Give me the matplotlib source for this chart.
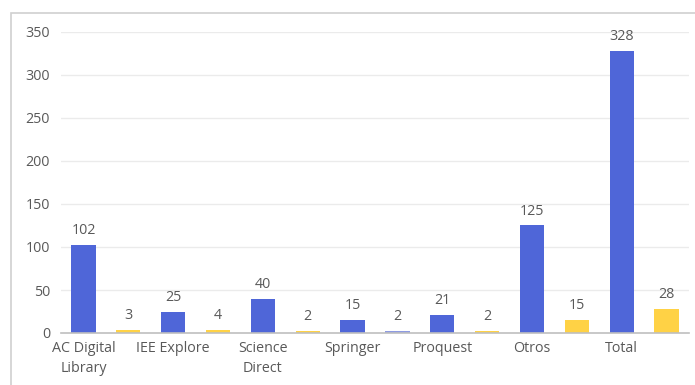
import matplotlib.pyplot as plt
import numpy as np
from matplotlib.patches import Rectangle

# Data
sources = ['AC Digital\nLibrary', 'IEE Explore', 'Science\nDirect', 'Springer',
           'Proquest', 'Otros', 'Total']
found = [102, 25, 40, 15, 21, 125, 328]
selected = [3, 4, 2, 2, 2, 15, 28]

blue = '#4F66D8'
yellow = '#FFD245'
text_col = '#595959'

plt.rcParams['font.family'] = ['Open Sans', 'DejaVu Sans']

fig = plt.figure(figsize=(6.95, 3.85), dpi=100)
ax = fig.add_axes([61 / 695, 1 - 333 / 385, 628 / 695, 301 / 385 * 1.0])

# outer chart frame
fig.patches.append(Rectangle((10.5 / 695, -0.1), 2, 1.1 - 12.5 / 385,
                             transform=fig.transFigure, fill=False,
                             edgecolor='#D0D0D0', linewidth=1.2, zorder=0))

x_blue = np.arange(len(sources)) * 2
x_yel = x_blue + 1
bar_width = 0.54

yel_colors = [yellow] * len(selected)
yel_colors[3] = '#8E9BE2'  # Springer second bar appears bluish in the original

b1 = ax.bar(x_blue, found, width=bar_width, color=blue, zorder=3)
b2 = ax.bar(x_yel, selected, width=bar_width, color=yel_colors, zorder=3)

for bars, vals in [(b1, found), (b2, selected)]:
    for rect, v in zip(bars, vals):
        ax.annotate(str(v), (rect.get_x() + rect.get_width() / 2, v),
                    xytext=(0, 5), textcoords='offset points',
                    ha='center', va='bottom', fontsize=10.3, color=text_col)

ax.set_xlim(-0.5, 13.5)
ax.set_ylim(0, 350)
ax.set_yticks(np.arange(0, 351, 50))
ax.set_xticks(x_blue)
ax.set_xticklabels(sources, fontsize=10.3, color=text_col, linespacing=1.45)
ax.tick_params(axis='y', labelsize=10.3, labelcolor=text_col, length=0, pad=8)
ax.tick_params(axis='x', length=0, pad=6)

ax.grid(axis='y', color='#EBEBEB', linewidth=1, zorder=0)
for s in ['top', 'right', 'left']:
    ax.spines[s].set_visible(False)
ax.spines['bottom'].set_color('#BFBFBF')
ax.spines['bottom'].set_linewidth(1.2)
ax.spines['bottom'].set_zorder(4)

fig.savefig('out.png', dpi=100)
